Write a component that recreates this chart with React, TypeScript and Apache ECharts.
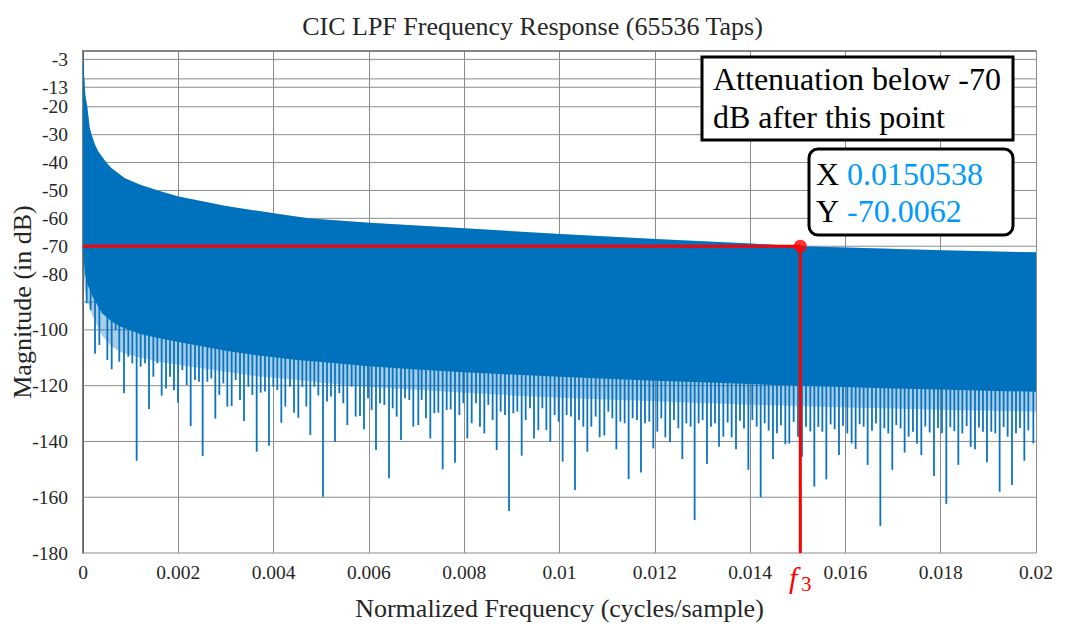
import React, { useEffect, useRef } from "react";
import * as echarts from "echarts";

const FONT = "'Liberation Serif', 'Times New Roman', serif";

// Upper envelope of the response (sidelobe peaks)
const upperFreq = [0, 0.00002, 0.00005, 0.00009, 0.00014, 0.00018, 0.00025, 0.00032, 0.00049, 0.0006, 0.00088, 0.0012, 0.00157, 0.002, 0.003, 0.004, 0.00472, 0.006, 0.008, 0.01, 0.012, 0.014, 0.01505, 0.016, 0.018, 0.02];
const upperDb = [0, -8, -16, -20, -27.5, -30, -33.5, -36, -40, -42, -45.6, -48, -50, -52.2, -55.6, -58.2, -60, -61.6, -63.6, -65.6, -67.4, -69.0, -70.0, -70.5, -71.4, -72.2];

// Lower edge of the solid (densely oscillating) body, and of the dense comb just below it
const bodyLowFreq = [0, 0.00004, 0.0001, 0.0002, 0.0004, 0.0006, 0.0008, 0.0012, 0.0016, 0.0022, 0.003, 0.0036, 0.0045, 0.0053, 0.006, 0.007, 0.008, 0.009, 0.01, 0.011, 0.012, 0.013, 0.014, 0.015, 0.016, 0.017, 0.018, 0.019, 0.02];
const bodyLowDb = [-70, -80, -84, -88, -94, -97, -99, -101.5, -103, -105, -107.5, -109, -110.8, -112, -113, -114.2, -115.2, -116, -116.8, -117.5, -118.2, -118.8, -119.4, -120, -120.5, -121, -121.4, -121.8, -122.2];
const combLowDb = [-75, -86, -90, -95, -102, -106, -108, -110, -111.5, -113, -115, -116.5, -118, -119.5, -120.5, -121.5, -122.5, -123.5, -124.3, -125, -125.6, -126.2, -126.8, -127.3, -127.8, -128.2, -128.6, -129, -129.3];

// Null spikes below the body
const spikeFreq = [
  0.000077, 0.000161, 0.000252, 0.000343, 0.000427, 0.000511, 0.000602, 0.000686, 0.000762, 0.00086,
  0.000951, 0.001035, 0.001126, 0.00121, 0.001301, 0.001385, 0.001476, 0.00156, 0.001651, 0.001742,
  0.001826, 0.00191, 0.001994, 0.002085, 0.002176, 0.00226, 0.00235, 0.002434, 0.002511, 0.002609,
  0.002693, 0.002777, 0.002861, 0.002945, 0.003029, 0.00312, 0.003204, 0.003295, 0.003379, 0.00347,
  0.003554, 0.003645, 0.003729, 0.003819, 0.003903, 0.003994, 0.004078, 0.004162, 0.004246, 0.004344,
  0.004428, 0.004519, 0.004603, 0.004687, 0.004771, 0.004855, 0.004939, 0.005037, 0.005121, 0.005205,
  0.005288, 0.005379, 0.005463, 0.005547, 0.005638, 0.005722, 0.005813, 0.005897, 0.005981,
  0.006058, 0.006149, 0.006233, 0.006324, 0.006422, 0.006499, 0.006583, 0.006674, 0.006758, 0.006848,
  0.006932, 0.007037, 0.007107, 0.007198, 0.007289, 0.007373, 0.007457, 0.007548, 0.007632, 0.007716,
  0.007807, 0.007898, 0.007982, 0.008066, 0.008157, 0.008248, 0.008331, 0.008422, 0.008506, 0.008597,
  0.008681, 0.008765, 0.008856, 0.00894, 0.009031, 0.009115, 0.009206, 0.00929, 0.009381, 0.009465,
  0.009556, 0.00964, 0.009724, 0.009807, 0.009898, 0.009982, 0.010066, 0.01015, 0.010241, 0.010325,
  0.010409, 0.0105, 0.010584, 0.010668, 0.010759, 0.010843, 0.010941, 0.011025, 0.011109, 0.011193,
  0.011277, 0.011367, 0.011451, 0.011535, 0.011626, 0.01171, 0.011794, 0.011885, 0.011969, 0.012053,
  0.012137, 0.012221, 0.012319, 0.012403, 0.012494, 0.012578, 0.012662, 0.012752, 0.012836, 0.01292,
  0.013004, 0.013095, 0.013179, 0.013263, 0.013347,
  0.013438, 0.013529, 0.013613, 0.013704, 0.013788, 0.013872, 0.013963, 0.014047, 0.014138, 0.014222,
  0.014306, 0.01439, 0.01448, 0.014564, 0.014648, 0.014739, 0.014823, 0.014914, 0.015005, 0.015089,
  0.015173, 0.015264, 0.015348, 0.015432, 0.015516, 0.0156, 0.01569, 0.015774, 0.015865, 0.015949,
  0.01604, 0.016131, 0.016215, 0.016299, 0.016383, 0.016467, 0.016558, 0.016642, 0.016733, 0.016817,
  0.0169, 0.016984, 0.017068, 0.017159, 0.017243, 0.017327, 0.017418, 0.017502, 0.017593, 0.017677,
  0.017768, 0.017859, 0.017943, 0.018027, 0.018118, 0.018202, 0.018286, 0.01837, 0.018454, 0.018545,
  0.018629, 0.01872, 0.018803, 0.018887, 0.018971, 0.019062, 0.019146, 0.019237, 0.019321, 0.019405,
  0.019496, 0.01958, 0.019664, 0.019755, 0.019839, 0.019944,
];
const spikeDb = [
  -90.5, -92.9, -108.6, -105.4, -94.1, -110.8, -114.1, -100.0, -111.4, -122.7,
  -109.6, -112.0, -146.9, -113.2, -112.0, -128.4, -116.8, -112.0, -123.6, -121.0,
  -116.8, -121.6, -126.1, -114.4, -119.8, -134.5, -118.0, -118.6, -145.2, -118.6,
  -117.4, -131.8, -123.3, -119.2, -127.5, -127.3, -118.0, -125.1, -132.7, -120.4,
  -123.3, -143.7, -122.5, -122.1, -141.5, -120.4, -121.6, -133.3, -127.5, -120.4,
  -129.7, -131.5, -120.4, -127.5, -137.7, -120.4, -123.5, -159.8, -125.7, -123.9,
  -140.1, -122.7, -126.3, -134.1, -120.4, -131.1, -130.9, -135.6, -124.5,
  -128.7, -143.1, -126.3, -126.9, -153.2, -128.1, -131.1, -139.5, -124.5, -125.1,
  -134.7, -134.1, -125.1, -131.7, -138.9, -129.9, -129.7, -150.0, -128.7, -128.5,
  -147.6, -130.5, -126.3, -138.9, -133.5, -126.3, -134.7, -137.1, -126.9, -132.3,
  -143.1, -129.3, -130.5, -164.9, -129.9, -129.3, -145.1, -132.3, -128.1, -138.9,
  -135.9, -128.1, -135.9, -140.1, -130.5, -132.9, -147.2, -130.5, -131.1, -157.4,
  -132.3, -134.7, -143.7, -134.7, -131.1, -138.5, -137.9, -129.3, -131.7, -142.8,
  -132.9, -133.5, -153.5, -131.7, -132.3, -151.1, -133.5, -132.9, -142.5, -136.5,
  -131.7, -138.5, -140.3, -132.3, -135.3, -146.3, -133.5, -134.7, -168.2, -133.5,
  -132.3, -148.1, -134.7, -133.5, -141.9,
  -138.3, -133.2, -138.5, -142.8, -132.6, -135.4, -150.2, -132.3, -134.7, -160.0,
  -133.5, -136.1, -146.3, -137.1, -134.2, -141.0, -140.7, -133.0, -138.3, -145.5,
  -134.7, -136.4, -156.2, -134.8, -136.5, -153.6, -133.9, -135.6, -144.9, -134.4,
  -137.1, -140.7, -142.7, -133.8, -134.7, -148.4, -136.2, -133.6, -170.3, -135.3,
  -137.1, -150.2, -134.1, -135.3, -144.0, -138.3, -136.5, -140.7, -144.9, -134.6,
  -136.8, -152.4, -135.2, -137.1, -162.4, -134.9, -136.3, -148.4, -137.1, -134.5,
  -141.9, -142.8, -135.0, -136.5, -147.5, -136.5, -137.1, -158.0, -134.8, -138.3,
  -155.6, -137.1, -135.2, -146.9, -136.0, -140.7,
];

const yTickLabels = [-3, -13, -20, -30, -40, -50, -60, -70, -80, -100, -120, -140, -160, -180];
const yGridValues = [0, -3, -10, -13, -20, -30, -40, -50, -60, -70, -80, -90, -100, -120, -140, -160, -180];

const cursorX = 0.0150538;
const cursorY = -70.0062;

const X_MIN = 0, X_MAX = 0.02, X_STEP = 0.002;
const Y_MIN = -180, Y_MAX = 0;
const SPIKE_TOP = -80;

const BLUE = "#0072BD";

export default function App() {
  const ref = useRef<HTMLDivElement>(null);

  useEffect(() => {
    document.body.style.margin = "0";
    const chart = echarts.init(ref.current!, null, { renderer: "svg" });
    const labelSet = new Set(yTickLabels);

    const bandItem = (lowDb: number[], fill: string) => (_p: any, api: any) => {
      const pts: number[][] = [];
      for (let i = 0; i < upperFreq.length; i++) pts.push(api.coord([upperFreq[i], upperDb[i]]));
      for (let i = bodyLowFreq.length - 1; i >= 0; i--) pts.push(api.coord([bodyLowFreq[i], lowDb[i]]));
      return { type: "polygon", shape: { points: pts }, style: { fill, stroke: "none" } };
    };

    const option: any = {
      animation: false,
      backgroundColor: "#ffffff",
      title: {
        text: "CIC LPF Frequency Response (65536 Taps)",
        left: "center",
        top: 8,
        textStyle: { fontFamily: FONT, fontSize: 26, fontWeight: "normal", color: "#262626" },
      },
      grid: { left: 83, right: 29, top: 51, bottom: 78, containLabel: false, outerBoundsMode: "none" },
      xAxis: {
        type: "value",
        min: X_MIN,
        max: X_MAX,
        interval: X_STEP,
        name: "Normalized Frequency (cycles/sample)",
        nameLocation: "middle",
        nameGap: 42,
        nameTextStyle: { fontFamily: FONT, fontSize: 26, color: "#262626" },
        axisLine: { show: true, lineStyle: { color: "#555555", width: 1.5 } },
        axisTick: { show: false },
        axisLabel: { fontFamily: FONT, fontSize: 19.5, color: "#262626", margin: 9 },
        splitLine: { show: true, lineStyle: { color: "#8c8c8c", width: 1 } },
      },
      yAxis: {
        type: "value",
        min: Y_MIN,
        max: Y_MAX,
        interval: 1,
        axisLine: { show: true, lineStyle: { color: "#555555", width: 1.5 } },
        axisTick: { show: false },
        splitLine: { show: false },
        axisLabel: {
          fontFamily: FONT,
          fontSize: 19.5,
          color: "#262626",
          margin: 15,
          formatter: (v: number) => (labelSet.has(Math.round(v)) ? String(Math.round(v)) : ""),
        },
      },
      series: [
        {
          type: "custom",
          name: "ygrid",
          silent: true,
          z: 1,
          data: yGridValues.map((v) => [X_MIN, v]),
          renderItem: (_p: any, api: any) => {
            const v = api.value(1);
            const a = api.coord([X_MIN, v]);
            const b = api.coord([X_MAX, v]);
            return {
              type: "line",
              shape: { x1: a[0], y1: a[1], x2: b[0], y2: b[1] },
              style: { stroke: "#8c8c8c", lineWidth: 1 },
            };
          },
        },
        {
          type: "custom",
          name: "comb",
          silent: true,
          z: 2,
          clip: true,
          data: [[X_MIN, Y_MAX]],
          renderItem: bandItem(combLowDb, "rgba(0,114,189,0.35)"),
        },
        {
          type: "custom",
          name: "spikes",
          silent: true,
          z: 3,
          clip: true,
          data: spikeFreq.map((f, i) => [f, spikeDb[i]]),
          renderItem: (_p: any, api: any) => {
            const f = api.value(0);
            const d = api.value(1);
            const a = api.coord([f, SPIKE_TOP]);
            const b = api.coord([f, d]);
            return {
              type: "line",
              shape: { x1: a[0], y1: a[1], x2: b[0], y2: b[1] },
              style: { stroke: "#0a74c0", lineWidth: 1.8 },
            };
          },
        },
        {
          type: "custom",
          name: "body",
          silent: true,
          z: 4,
          clip: true,
          data: [[X_MIN, Y_MAX]],
          renderItem: bandItem(bodyLowDb, BLUE),
        },
        {
          type: "line",
          name: "cursor",
          silent: true,
          z: 5,
          symbol: "none",
          lineStyle: { color: "#ff0000", width: 3 },
          data: [
            [X_MIN, cursorY],
            [cursorX, cursorY],
            [cursorX, Y_MIN],
          ],
        },
        {
          type: "scatter",
          name: "point",
          silent: true,
          z: 6,
          symbolSize: 13,
          itemStyle: { color: "#ff0000" },
          data: [[cursorX, cursorY]],
        },
      ],
      graphic: [
        {
          type: "text",
          z: 101,
          x: 22,
          y: 302,
          rotation: Math.PI / 2,
          style: {
            text: "Magnitude (in dB)",
            font: `26px ${FONT}`,
            fill: "#262626",
            align: "center",
            verticalAlign: "middle",
          },
        },
        {
          type: "rect",
          z: 100,
          shape: { x: 702, y: 57, width: 311, height: 83 },
          style: { fill: "#ffffff", stroke: "#000000", lineWidth: 3 },
        },
        {
          type: "text",
          z: 101,
          x: 713,
          y: 79,
          style: { text: "Attenuation below -70", font: `32px ${FONT}`, fill: "#000000", verticalAlign: "middle" },
        },
        {
          type: "text",
          z: 101,
          x: 713,
          y: 117,
          style: { text: "dB after this point", font: `32px ${FONT}`, fill: "#000000", verticalAlign: "middle" },
        },
        {
          type: "rect",
          z: 100,
          shape: { x: 809, y: 149, width: 204, height: 86, r: 9 },
          style: { fill: "#ffffff", stroke: "#000000", lineWidth: 3 },
        },
        {
          type: "text",
          z: 101,
          x: 816,
          y: 174,
          style: {
            text: `{k|X} {v|${cursorX}}`,
            verticalAlign: "middle",
            font: `32px ${FONT}`,
            rich: {
              k: { fontFamily: FONT, fontSize: 32, fill: "#000000" },
              v: { fontFamily: FONT, fontSize: 32, fill: "#0099ff" },
            },
          },
        },
        {
          type: "text",
          z: 101,
          x: 816,
          y: 211,
          style: {
            text: `{k|Y} {v|${cursorY}}`,
            verticalAlign: "middle",
            font: `32px ${FONT}`,
            rich: {
              k: { fontFamily: FONT, fontSize: 32, fill: "#000000" },
              v: { fontFamily: FONT, fontSize: 32, fill: "#0099ff" },
            },
          },
        },
        {
          type: "text",
          z: 101,
          x: 789,
          y: 577,
          style: { text: "f", font: `italic 30px ${FONT}`, fill: "#ff0000", verticalAlign: "middle" },
        },
        {
          type: "text",
          z: 101,
          x: 801,
          y: 584,
          style: { text: "3", font: `21px ${FONT}`, fill: "#ff0000", verticalAlign: "middle" },
        },
      ],
    };

    chart.setOption(option);
    return () => chart.dispose();
  }, []);

  return <div ref={ref} style={{ width: 1065, height: 631 }} />;
}
